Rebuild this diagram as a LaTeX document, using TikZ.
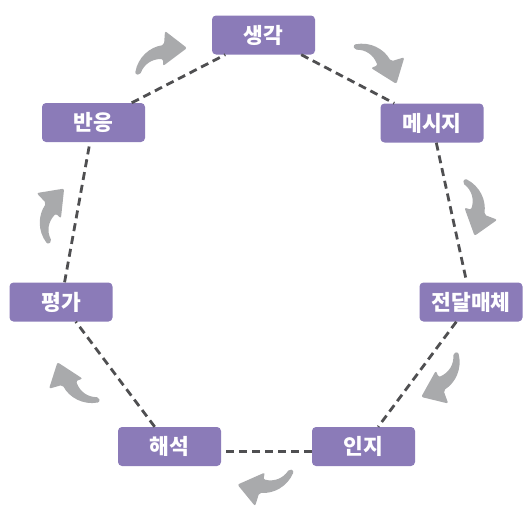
\documentclass[tikz,border=0pt]{standalone}
\usepackage{fontspec}
\setmainfont{Noto Sans CJK KR}
\definecolor{boxpurple}{HTML}{8B7BB8}
\definecolor{turngray}{HTML}{A9AAAC}
\definecolor{dashgray}{HTML}{4F4F51}
\tikzset{
  turn/.pic={
    \fill[turngray, rounded corners=2pt] (-25,14) .. controls (-22,-3) and (-10,-13) .. (4,-15)
      -- (5,-29) -- (27,-12) -- (3,6) -- (3,-1) .. controls (-8,-1) and (-16,4) .. (-20,15) -- cycle;
  }
}
\begin{document}
\begin{tikzpicture}[x=1pt, y=-1pt,
  stage/.style={rectangle, rounded corners=4pt, fill=boxpurple, text=white,
    font=\bfseries\fontsize{21.5}{21.5}\selectfont, minimum width=103pt, minimum height=39pt, inner sep=0pt},
  link/.style={dashgray, line width=2.8pt, dash pattern=on 8pt off 5pt}]
\useasboundingbox (0,0) rectangle (526,506);
\node[stage] (st0) at (263.5,35) {생각};
\node[stage] (st1) at (432,123) {메시지};
\node[stage] (st2) at (471,302) {전달매체};
\node[stage] (st3) at (363.5,446.5) {인지};
\node[stage] (st4) at (169.5,446.5) {해석};
\node[stage] (st5) at (61,302) {평가};
\node[stage] (st6) at (93.5,122.5) {반응};
\draw[link] (st0) -- (st1);
\draw[link] (st1) -- (st2);
\draw[link] (st2) -- (st3);
\draw[link] ([yshift=-5pt]st3.west) -- ([yshift=-5pt]st4.east);
\draw[link] (st4) -- (st5);
\draw[link] (st5) -- (st6);
\draw[link] (st6) -- (st0);
\pic at (160,60) {turn};
\pic[rotate=-69] at (375.5,63) {turn};
\pic[rotate=-107] at (471,206.5) {turn};
\pic[rotate=-156] at (441,375) {turn};
\pic[rotate=-193] at (266.5,479) {turn};
\pic[rotate=-250] at (78,383.5) {turn};
\pic[rotate=-313] at (54.5,216.5) {turn};
\end{tikzpicture}
\end{document}
